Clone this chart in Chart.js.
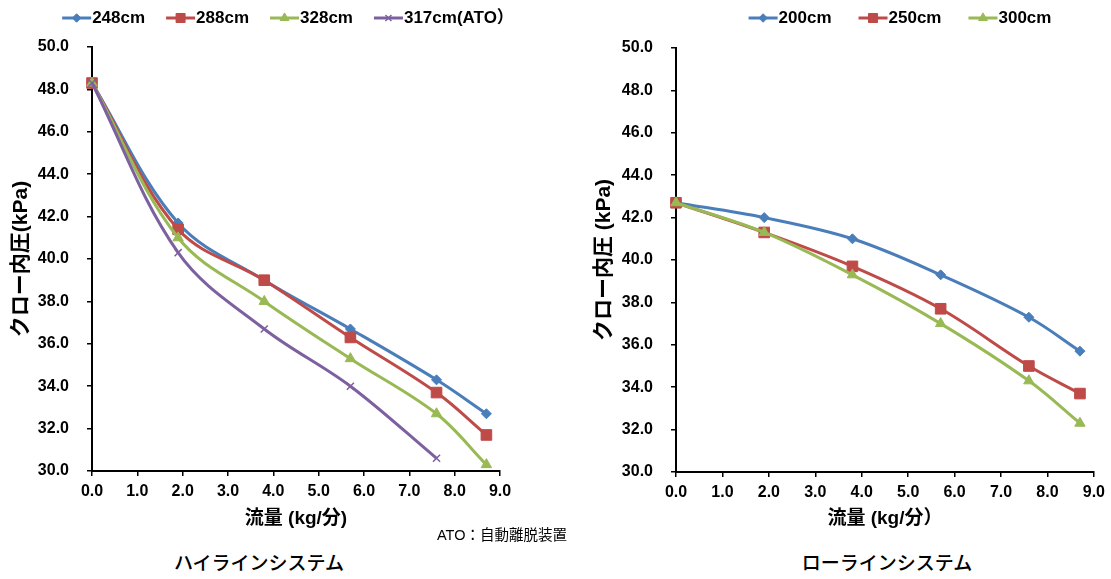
<!DOCTYPE html>
<html lang="ja">
<head>
<meta charset="utf-8">
<title>クロー内圧と流量</title>
<script src="https://cdn.jsdelivr.net/npm/chart.js@4"></script>
<style>
  html, body { margin: 0; padding: 0; background: #fff; overflow: hidden; }
  body {
    width: 1111px; height: 579px; position: relative;
    font-family: "Liberation Sans", "Noto Sans CJK JP", sans-serif; color: #000;
  }
  canvas { position: absolute; top: 0; }
  #highChart { left: 0; }
  #lowChart { left: 580px; }
  .label { position: absolute; white-space: nowrap; line-height: 1; }
  .note { left: 437px; top: 528px; font-size: 14.5px; }
  .caption { top: 554px; font-size: 19px; font-weight: 500; transform: translateX(-50%); }
</style>
</head>
<body>
<canvas id="highChart" width="560" height="540"></canvas>
<canvas id="lowChart" width="531" height="540"></canvas>
<div class="label note">ATO：自動離脱装置</div>
<div class="label caption" style="left:259px">ハイラインシステム</div>
<div class="label caption" style="left:887px">ローラインシステム</div>

<script>
// flow rate (kg/min) at each measuring point
const flow = [0, 1.9, 3.8, 5.7, 7.6, 8.7];

// high line system: claw pressure (kPa) by milk line height
const high248 = [48.3, 41.7, 39.0, 36.7, 34.3, 32.7];
const high288 = [48.3, 41.4, 39.0, 36.3, 33.7, 31.7];
const high328 = [48.3, 41.0, 38.0, 35.3, 32.7, 30.3];
const high317ato = [48.3, 40.3, 36.7, 34.0, 30.6];

// low line system
const low200 = [42.7, 42.0, 41.0, 39.3, 37.3, 35.7];
const low250 = [42.7, 41.3, 39.7, 37.7, 35.0, 33.7];
const low300 = [42.7, 41.3, 39.3, 37.0, 34.3, 32.3];

const FONT = '"Liberation Sans", "Noto Sans CJK JP", sans-serif';
const BLUE = '#4a7ebb', RED = '#be4b48', GREEN = '#98b954', PURPLE = '#7d60a0';

Chart.defaults.font.family = FONT;
Chart.defaults.color = '#000';

function series(label, values, color, style, radius, borderW) {
  return {
    label: label,
    data: values.map((v, i) => ({ x: flow[i], y: v })),
    borderColor: color,
    backgroundColor: color,
    pointBackgroundColor: color,
    pointBorderColor: color,
    pointStyle: style,
    pointRadius: radius,
    pointBorderWidth: borderW || 1,
    borderWidth: 3,
    tension: 0.35,
    clip: false
  };
}

// legend drawn as Excel-like line samples with the marker in the middle
const lineLegend = {
  id: 'lineLegend',
  afterDraw(chart, args, opts) {
    const ctx = chart.ctx;
    const sets = chart.data.datasets;
    const lineLen = 29;
    ctx.save();
    ctx.font = 'bold 17px ' + FONT;
    ctx.textBaseline = 'middle';
    const widths = sets.map(ds => lineLen + 1 + ctx.measureText(ds.label).width);
    const total = widths.reduce((a, b) => a + b, 0) + opts.gap * (sets.length - 1);
    let x = opts.centerX - total / 2;
    sets.forEach((ds, i) => {
      ctx.strokeStyle = ds.borderColor;
      ctx.lineWidth = 3;
      ctx.beginPath();
      ctx.moveTo(x, opts.y);
      ctx.lineTo(x + lineLen, opts.y);
      ctx.stroke();
      ctx.fillStyle = ds.pointBackgroundColor;
      ctx.strokeStyle = ds.pointBorderColor;
      ctx.lineWidth = ds.pointBorderWidth;
      Chart.helpers.drawPoint(ctx, {
        pointStyle: ds.pointStyle, radius: ds.pointRadius * 0.85,
        rotation: 0, borderWidth: ds.pointBorderWidth
      }, x + lineLen / 2, opts.y);
      ctx.fillStyle = '#000';
      ctx.fillText(ds.label, x + lineLen + 1, opts.y);
      x += widths[i] + opts.gap;
    });
    ctx.restore();
  }
};

function axisStyle() {
  return {
    grid: { drawOnChartArea: false, drawTicks: true, tickLength: 5, color: '#000', lineWidth: 1.5 },
    border: { color: '#000', width: 2 }
  };
}

function makeChart(id, datasets, opt) {
  // later series sit on top, like the spreadsheet original
  datasets.forEach((ds, i) => { ds.order = datasets.length - 1 - i; });
  return new Chart(document.getElementById(id), {
    type: 'line',
    data: { datasets: datasets },
    plugins: [lineLegend],
    options: {
      responsive: false,
      animation: false,
      layout: { padding: { top: opt.top, right: opt.right, bottom: 0, left: 0 } },
      plugins: {
        legend: { display: false },
        tooltip: { enabled: false },
        lineLegend: { centerX: opt.legendX, y: 18, gap: opt.legendGap }
      },
      scales: {
        x: Object.assign(axisStyle(), {
          type: 'linear', min: 0, max: 9,
          ticks: {
            stepSize: 1, padding: 6, maxRotation: 0, autoSkip: false,
            font: { size: 16, weight: 'bold' }, color: '#000',
            callback: v => Number(v).toFixed(1)
          },
          title: {
            display: true, text: opt.xTitle, color: '#000',
            font: { size: 19, weight: 'bold' }, padding: { top: 0, bottom: 10 }
          },
          afterFit(s) { s.height = opt.xHeight; }
        }),
        y: Object.assign(axisStyle(), {
          min: 30, max: 50,
          ticks: {
            stepSize: 2, padding: 18,
            font: { size: 16, weight: 'bold' }, color: '#000',
            callback: v => Number(v).toFixed(1)
          },
          title: {
            display: true, text: opt.yTitle, color: '#000',
            font: { size: 21, weight: 'bold' }, padding: { top: opt.yTitlePad, bottom: 0 }
          },
          afterFit(s) { s.width = opt.yWidth; }
        })
      }
    }
  });
}

makeChart('highChart', [
  series('248cm', high248, BLUE, 'rectRot', 5),
  series('288cm', high288, RED, 'rect', 7.5),
  series('328cm', high328, GREEN, 'triangle', 6),
  series('317cm(ATO）', high317ato, PURPLE, 'crossRot', 5, 1.5)
], {
  top: 47, right: 60, xHeight: 69, yWidth: 92, yTitlePad: 9,
  legendX: 288, legendGap: 21,
  xTitle: '流量 (kg/分)', yTitle: 'クロー内圧(kPa)'
});

makeChart('lowChart', [
  series('200cm', low200, BLUE, 'rectRot', 5),
  series('250cm', low250, RED, 'rect', 7.5),
  series('300cm', low300, GREEN, 'triangle', 6)
], {
  top: 48, right: 16, xHeight: 68, yWidth: 96, yTitlePad: 12,
  legendX: 320, legendGap: 27,
  xTitle: '流量 (kg/分）', yTitle: 'クロー内圧 (kPa)'
});
</script>
</body>
</html>
